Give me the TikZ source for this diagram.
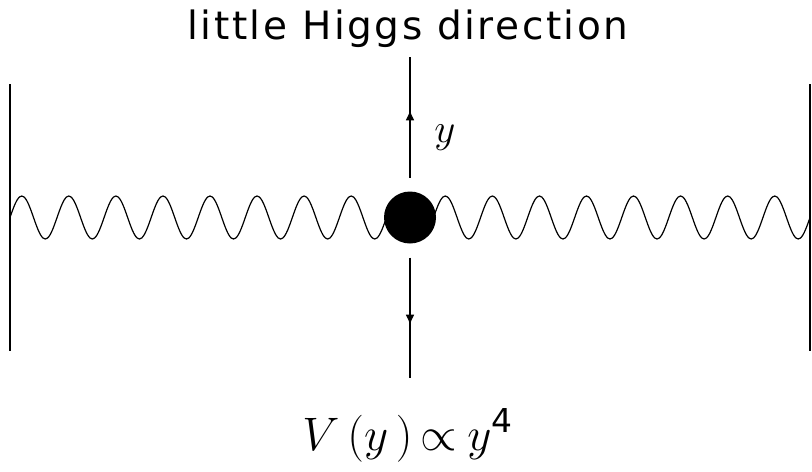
\RequirePackage{fix-cm}
\documentclass[tikz,border=0pt]{standalone}
\usepackage{amsmath,amssymb}
\usepackage{fontspec}
\newfontfamily\labelfont{DejaVu Sans}
\newfontfamily\titlefont[LetterSpace=6.5]{DejaVu Sans}
\usepackage{tikz}
\usetikzlibrary{arrows.meta,decorations.markings}

\tikzset{
  wall/.style={line width=0.6pt},
  blob/.style={circle,fill=black,minimum size=26pt,inner sep=0pt,outer sep=7pt},
  midarrow/.style={line width=0.6pt,postaction={decorate},
    decoration={markings,mark=at position 0.56 with {\arrow{Latex[length=5pt,width=4.4pt]}}}}
}

\begin{document}
\begin{tikzpicture}[>=Latex,x=0.5pt,y=0.5pt]
\useasboundingbox (-410,-253.5) rectangle (402,217.5);
% end points
\coordinate (lwt) at (-400,133);
\coordinate (lwb) at (-400,-133);
\coordinate (rwt) at (400,133);
\coordinate (rwb) at (400,-133);
\coordinate (ytop) at (0,160);
\coordinate (ybot) at (0,-160);
% walls and wave (17 periods)
\draw[wall] (lwt) -- (lwb);
\draw[wall] (rwt) -- (rwb);
\draw[wall] plot[domain=-400:400,samples=341,smooth] (\x,{21.5*sin(7.65*(\x+400))});
\node[blob] (dot) at (0,0) {};
% displacement
\draw[midarrow] (dot) -- (ytop);
\draw[midarrow] (dot) -- (ybot);
\node (ylab) at (35,79.5) {\fontsize{20.5}{24}\selectfont $y$};
\node[anchor=base] (title) at (-2,177.5) {\fontsize{19.5}{23}\selectfont\titlefont little Higgs direction};
\node[anchor=base] (pot) at (-2,-232.5) {\fontsize{23.5}{28}\selectfont $V\,(y\,)\mkern3mu{\propto}\mkern4mu y^{\text{\labelfont 4}}$};
\end{tikzpicture}
\end{document}
